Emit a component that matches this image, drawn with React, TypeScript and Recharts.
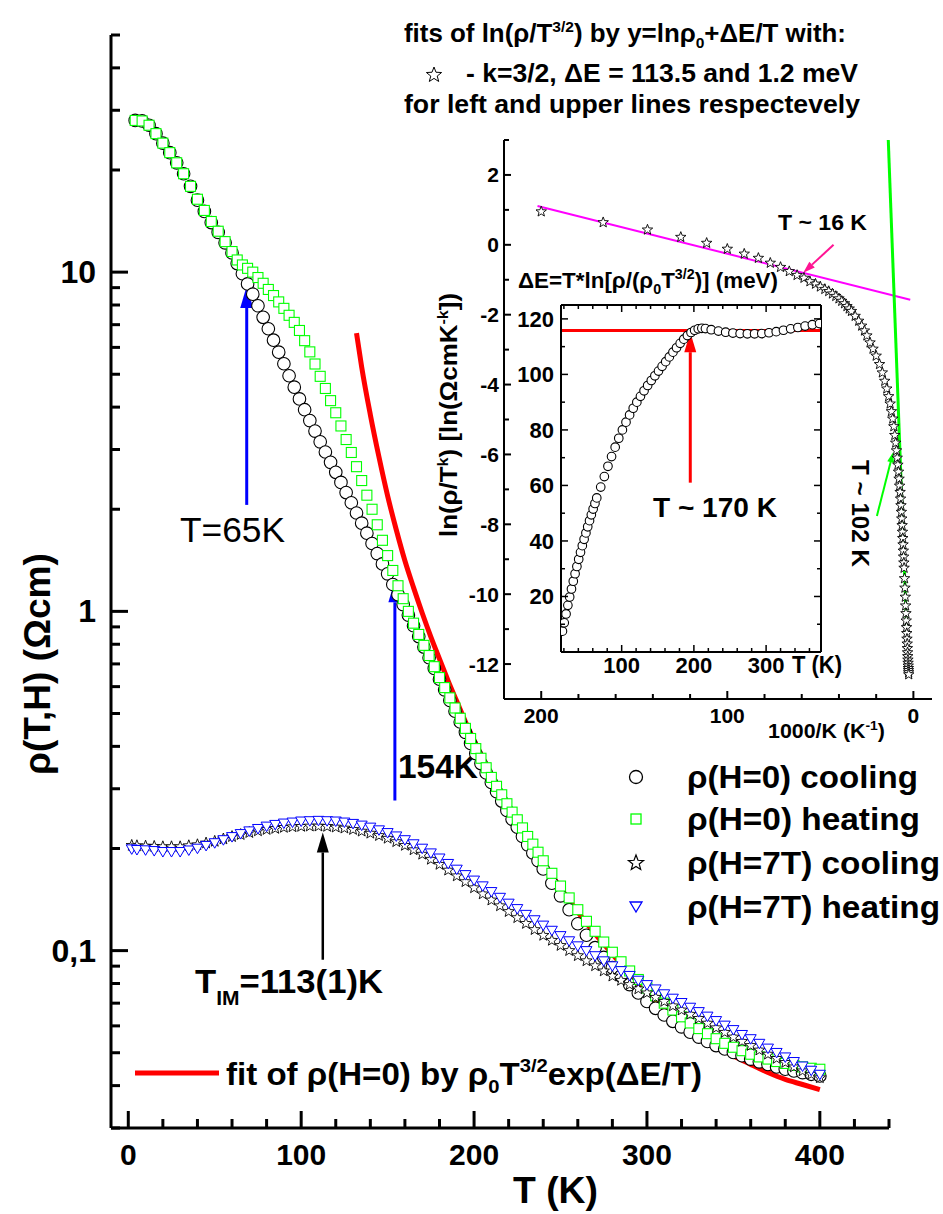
import React from 'react';
import { ComposedChart, Scatter, Line, XAxis, YAxis, ReferenceLine } from 'recharts';

const FONT = '"Liberation Sans", Arial, Helvetica, sans-serif';
const W = 943;
const H = 1214;

// ---------- main panel: rho(T,H) ----------
const tH0 = [
  4, 8, 12, 16, 20, 24, 28, 32, 36, 40, 44, 48, 52, 56, 60,
  63, 66, 69, 72, 75, 78, 81, 84, 87, 90, 93, 96, 99, 102, 105, 108, 111, 114, 117, 120,
  123, 126, 129, 132, 135, 138, 141, 144, 147, 150, 153, 156, 159, 162, 165, 168, 171, 174, 177, 180,
  183, 186, 189, 192, 195, 198, 201, 204, 207, 210, 213, 216, 219, 222, 225, 228, 231, 234, 237, 240,
  245, 250, 255, 260, 265, 270, 275, 280, 285, 290, 295, 300, 305, 310, 315, 320,
  325, 330, 335, 340, 345, 350, 355, 360, 365, 370, 375, 380, 385, 390, 395, 400,
];
const rhoCoolH0 = [
  28.0, 27.9, 27.1, 25.6, 24.0, 22.5, 21.0, 19.5, 17.9, 16.3, 15.1, 14.0, 13.1, 12.2, 11.4,
  10.6, 9.89, 9.23, 8.61, 7.96, 7.36, 6.81, 6.30, 5.81, 5.37, 4.95, 4.58, 4.23, 3.93, 3.65, 3.40, 3.16, 2.95, 2.75, 2.57,
  2.40, 2.24, 2.09, 1.95, 1.82, 1.70, 1.585, 1.48, 1.38, 1.29, 1.20, 1.12, 1.047, 0.975, 0.907, 0.843, 0.785, 0.730, 0.679, 0.631,
  0.587, 0.546, 0.508, 0.472, 0.440, 0.408, 0.381, 0.356, 0.334, 0.313, 0.294, 0.276, 0.259, 0.244, 0.231, 0.217, 0.205, 0.194, 0.184, 0.174,
  0.158, 0.145, 0.132, 0.120, 0.111, 0.102, 0.0955, 0.0891, 0.0841, 0.0794, 0.0750, 0.0708, 0.0676, 0.0646, 0.0619, 0.0596,
  0.0575, 0.0556, 0.0540, 0.0525, 0.0513, 0.0501, 0.0490, 0.0479, 0.0470, 0.0462, 0.0454, 0.0447, 0.0442, 0.0437, 0.0432, 0.0427,
];
const rhoHeatH0 = [
  28.0, 27.9, 27.1, 25.6, 24.0, 22.5, 21.0, 19.5, 17.9, 16.4, 15.2, 14.1, 13.2, 12.3, 11.5,
  10.86, 10.5, 10.26, 10.0, 9.64, 9.27, 8.89, 8.53, 8.17, 7.82, 7.46, 7.11, 6.73, 6.28, 5.82, 5.36, 4.93, 4.54, 4.18, 3.85,
  3.52, 3.21, 2.94, 2.67, 2.43, 2.20, 2.0, 1.80, 1.62, 1.46, 1.32, 1.19, 1.09, 1.0, 0.923, 0.855, 0.794, 0.741, 0.687, 0.638,
  0.596, 0.556, 0.519, 0.484, 0.452, 0.422, 0.394, 0.369, 0.346, 0.324, 0.305, 0.288, 0.271, 0.256, 0.243, 0.230, 0.217, 0.206, 0.195, 0.184,
  0.169, 0.155, 0.143, 0.132, 0.122, 0.114, 0.106, 0.0989, 0.0927, 0.0871, 0.0822, 0.0776, 0.0736, 0.0700, 0.0668, 0.0638,
  0.0612, 0.0589, 0.0569, 0.0550, 0.0533, 0.0519, 0.0507, 0.0495, 0.0486, 0.0479, 0.0471, 0.0465, 0.0459, 0.0454, 0.0450, 0.0447,
];

const tH7 = [
  2, 5, 10, 15, 20, 25, 30, 35, 40, 45, 50, 55, 60, 65, 70, 75, 80, 85, 90, 95,
  100, 105, 110, 115, 120, 125, 130, 135, 140, 145, 150, 155, 160, 165, 170, 175, 180, 185, 190, 195,
  200, 205, 210, 215, 220, 225, 230, 235, 240, 245, 250, 255, 260, 265, 270, 275, 280, 285, 290, 295,
  300, 305, 310, 315, 320, 325, 330, 335, 340, 345, 350, 355, 360, 365, 370, 375, 380, 385, 390, 395, 400,
];
const rhoCoolH7 = [
  0.2042, 0.2037, 0.2032, 0.2028, 0.2023, 0.2023, 0.2023, 0.2037, 0.2051, 0.2075,
  0.2099, 0.2133, 0.2168, 0.2198, 0.2228, 0.2254, 0.2275, 0.2291, 0.2307, 0.2317,
  0.2323, 0.2328, 0.2328, 0.2323, 0.2312, 0.2296, 0.2275, 0.2249, 0.2218, 0.2183,
  0.2143, 0.2094, 0.2042, 0.1982, 0.1923, 0.1858, 0.1795, 0.1726, 0.1660, 0.1596,
  0.1531, 0.1469, 0.1409, 0.1355, 0.1303, 0.1250, 0.1202, 0.1153, 0.1109, 0.1072,
  0.1035, 0.1, 0.0966, 0.0933, 0.0902, 0.0871, 0.0841, 0.0817, 0.0794, 0.0771,
  0.0750, 0.0728, 0.0708, 0.0687, 0.0668, 0.0649, 0.0631, 0.0611, 0.0592, 0.0574,
  0.0556, 0.0540, 0.0525, 0.0509, 0.0495, 0.0481, 0.0468, 0.0454, 0.0442, 0.0432, 0.0422,
];
const rhoHeatH7 = [
  0.1995, 0.1986, 0.1982, 0.1972, 0.1959, 0.1959, 0.1959, 0.198, 0.2004, 0.2042,
  0.208, 0.2123, 0.2168, 0.2213, 0.2254, 0.2291, 0.2328, 0.2355, 0.2377, 0.2393,
  0.2410, 0.2415, 0.2421, 0.2415, 0.2410, 0.2393, 0.2371, 0.2344, 0.2312, 0.2270,
  0.2228, 0.2178, 0.2123, 0.2065, 0.2004, 0.1941, 0.1875, 0.1807, 0.1738, 0.1675,
  0.1614, 0.1552, 0.1493, 0.1436, 0.1380, 0.1330, 0.1279, 0.1233, 0.1189, 0.1148,
  0.1107, 0.1069, 0.1033, 0.1, 0.0966, 0.0933, 0.0902, 0.0873, 0.0845, 0.0818,
  0.0794, 0.0771, 0.0746, 0.0724, 0.0703, 0.0681, 0.0661, 0.0641, 0.0622, 0.0603,
  0.0585, 0.0566, 0.0550, 0.0533, 0.0516, 0.0501, 0.0486, 0.0471, 0.0457, 0.0444, 0.0432,
];

// fit rho0*T^3/2*exp(dE/T)
const tFit = [132, 135, 140, 145, 150, 155, 160, 165, 170, 175, 180, 185, 190, 195, 200,
  210, 220, 230, 240, 250, 260, 270, 280, 290, 300, 310, 320, 330, 340, 350, 360, 370, 380, 390, 400];
const rhoFit = [6.61, 5.25, 3.80, 2.85, 2.19, 1.74, 1.41, 1.175, 0.989, 0.841, 0.724, 0.624, 0.543, 0.473, 0.417,
  0.331, 0.266, 0.219, 0.182, 0.153, 0.130, 0.112, 0.0977, 0.0851, 0.0750, 0.0676, 0.0617, 0.0569, 0.0525,
  0.0490, 0.0462, 0.0437, 0.0417, 0.0403, 0.0389];

const MAIN_X_TICKS = [0, 20, 40, 60, 80, 100, 120, 140, 160, 180, 200, 220, 240, 260, 280, 300, 320, 340, 360, 380, 400, 420, 440];
const MAIN_Y_TICKS = [0.03, 0.04, 0.05, 0.06, 0.07, 0.08, 0.09, 0.1, 0.2, 0.3, 0.4, 0.5, 0.6, 0.7, 0.8, 0.9,
  1, 2, 3, 4, 5, 6, 7, 8, 9, 10, 20, 30, 40, 50];
const MAIN_Y_LABELS: Record<number, string> = { 0.1: '0,1', 1: '1', 10: '10' };

// arrows (tail -> tip) in data units
const arrow65K = [{ x: 68.5, y: 2.06 }, { x: 68.5, y: 9.1 }];
const arrow154K = [{ x: 154.2, y: 0.277 }, { x: 154.2, y: 1.235 }];
const arrowTim = [{ x: 112.5, y: 0.094 }, { x: 112.5, y: 0.223 }];

// ---------- inset: ln(rho/T^k) vs 1000/T ----------
const insetX = [
  200, 166.7, 142.9, 125, 111.1, 100, 90.9, 83.3, 76.9, 71.4, 66.7, 62.5, 58.8, 55.6, 52.6, 50,
  47.6, 45.5, 43.5, 41.7, 40, 38.5, 37, 35.7, 34.5, 33.3,
  31.3, 29.4, 27.8, 26.3, 25, 23.3, 21.7,
  20, 18.2, 16.7, 15.4, 14.3, 13.3, 12.5, 11.8, 11.1, 10.5, 10, 9.52, 9.09, 8.7, 8.33, 8, 7.69, 7.41, 7.14, 6.9,
  6.67, 6.45, 6.25, 6.06, 5.88, 5.71, 5.56, 5.41, 5.26, 5.13, 5,
  4.76, 4.55, 4.35, 4.17, 4, 3.85, 3.7, 3.57, 3.45, 3.33, 3.23, 3.13, 3.03, 2.94, 2.86, 2.78, 2.7, 2.63, 2.56, 2.5,
];
const insetY = [
  0.95, 0.64, 0.43, 0.22, 0.05, -0.12, -0.26, -0.38, -0.52, -0.64, -0.76, -0.87, -0.95, -1.05, -1.12, -1.2,
  -1.27, -1.33, -1.4, -1.47, -1.54, -1.61, -1.68, -1.76, -1.83, -1.9,
  -2.04, -2.18, -2.32, -2.46, -2.6, -2.8, -2.98,
  -3.18, -3.42, -3.66, -3.9, -4.12, -4.34, -4.55, -4.77, -4.98, -5.2, -5.45, -5.67, -5.89, -6.1, -6.3, -6.5, -6.7, -6.9, -7.08, -7.27,
  -7.46, -7.65, -7.84, -8.03, -8.22, -8.4, -8.58, -8.76, -8.93, -9.1, -9.25,
  -9.55, -9.82, -10.08, -10.33, -10.55, -10.76, -10.95, -11.12, -11.28, -11.42, -11.55, -11.67, -11.78, -11.88, -11.97, -12.05, -12.12, -12.18, -12.24, -12.3,
];
const leftFitLine = [{ x: 202, y: 1.11 }, { x: 1.7, y: -1.57 }];
const upperFitLine = [{ x: 13.5, y: 3 }, { x: 2.8, y: -12.2 }];
const arrow16K = [{ x: 42.9, y: 0 }, { x: 59.2, y: -0.8 }];
const arrow102K = [{ x: 19.6, y: -7.76 }, { x: 10.9, y: -5.94 }];
const INSET_X_TICKS = [0, 20, 40, 60, 80, 100, 120, 140, 160, 180, 200];
const INSET_Y_TICKS = [-12, -11, -10, -9, -8, -7, -6, -5, -4, -3, -2, -1, 0, 1, 2, 3];

// ---------- inner inset: dE(T) ----------
const innerT = [
  18, 20.5, 23, 25.5, 28, 30.5, 33, 35.5, 38, 40.5, 43, 45.5, 48, 50.5, 53, 55.5, 58, 60.5, 63, 65.5,
  71, 76, 81, 86, 91, 96, 101, 106, 111, 116, 121, 126, 131, 136, 141, 146, 151, 156, 161, 166,
  171, 176, 181, 186, 191, 196, 201, 206, 211, 216,
  224, 234, 244, 254, 264, 274, 284, 294, 304, 314, 324, 334, 344, 354, 364, 374,
];
const innerDE = [
  7.5, 10.5, 13.7, 16.8, 19.8, 22.7, 25.5, 28.2, 30.8, 33.4, 35.9, 38.3, 40.6, 42.9, 45.1, 47.3, 49.4, 51.5, 53.5, 55.5,
  59.4, 63.2, 66.9, 70.4, 73.8, 77, 80, 82.8, 85.4, 87.8, 90, 92.1, 94.1, 96, 97.8, 99.5, 101.2, 102.9, 104.6, 106.3,
  108, 109.6, 111.2, 112.7, 114, 115.1, 115.9, 116.4, 116.6, 116.5,
  116.1, 115.6, 115.2, 114.9, 114.7, 114.6, 114.6, 114.7, 115, 115.4, 115.9, 116.4, 116.9, 117.4, 117.9, 118.3,
];
const plateauDE = 115.8;
const arrow170K = [{ x: 195, y: 61 }, { x: 195, y: 115.2 }];
const INNER_X_TICKS = [20, 40, 60, 80, 100, 120, 140, 160, 180, 200, 220, 240, 260, 280, 300, 320, 340, 360];
const INNER_Y_TICKS = [10, 20, 30, 40, 50, 60, 70, 80, 90, 100, 110, 120];

const pairs = (xs: number[], ys: number[], kx: string, ky: string) =>
  xs.map((v, i) => ({ [kx]: v, [ky]: ys[i] }));

const coolH0 = pairs(tH0, rhoCoolH0, 'T', 'rho');
const heatH0 = pairs(tH0, rhoHeatH0, 'T', 'rho');
const coolH7 = pairs(tH7, rhoCoolH7, 'T', 'rho');
const heatH7 = pairs(tH7, rhoHeatH7, 'T', 'rho');
const fitData = pairs(tFit, rhoFit, 'T', 'rho');
const insetData = pairs(insetX, insetY, 'x', 'y');
const innerData = pairs(innerT, innerDE, 'T', 'dE');

// ---------- shapes ----------
const starPts = (cx: number, cy: number, R: number, r: number) =>
  Array.from({ length: 10 }, (_, i) => {
    const a = -Math.PI / 2 + (i * Math.PI) / 5;
    const rad = i % 2 ? r : R;
    return `${cx + rad * Math.cos(a)},${cy + rad * Math.sin(a)}`;
  }).join(' ');

const circleShape = (r: number) => (p: any) => (
  <circle cx={p.cx} cy={p.cy} r={r} fill="#fff" stroke="#000" strokeWidth={1.1} />
);
const squareShape = (p: any) => (
  <rect x={p.cx - 5} y={p.cy - 5} width={10} height={10} fill="#fff" stroke="#00ff00" strokeWidth={1.1} />
);
const starShape = (R: number) => (p: any) => (
  <polygon points={starPts(p.cx, p.cy, R, R * 0.42)} fill="#fff" stroke="#000" strokeWidth={0.9} />
);
const triDownShape = (p: any) => (
  <polygon points={`${p.cx - 5.5},${p.cy - 4} ${p.cx + 5.5},${p.cy - 4} ${p.cx},${p.cy + 5.5}`}
    fill="#fff" stroke="#0000ff" strokeWidth={1} />
);

const arrowShape = (color: string, sw: number, headL: number, headW: number) => (p: any) => {
  const { x1, y1, x2, y2 } = p;
  const ang = Math.atan2(y2 - y1, x2 - x1);
  const bx = x2 - headL * Math.cos(ang);
  const by = y2 - headL * Math.sin(ang);
  const nx = (-Math.sin(ang) * headW) / 2;
  const ny = (Math.cos(ang) * headW) / 2;
  return (
    <g>
      <line x1={x1} y1={y1} x2={bx} y2={by} stroke={color} strokeWidth={sw} />
      <polygon points={`${x2},${y2} ${bx + nx},${by + ny} ${bx - nx},${by - ny}`} fill={color} />
    </g>
  );
};

type TickOpts = {
  dir: 'up' | 'down' | 'left' | 'right';
  isMajor: (v: number) => boolean;
  major: number;
  minor: number;
  sw: number;
  label?: (v: number) => string | null;
  lx?: number;
  ly?: number;
  anchor?: 'start' | 'middle' | 'end';
  fs?: number;
};
const DIRS = { up: [0, -1], down: [0, 1], left: [-1, 0], right: [1, 0] };
const axisTick = (o: TickOpts) => (props: any) => {
  const { x, y, payload } = props;
  const v = payload.value;
  const maj = o.isMajor(v);
  const len = maj ? o.major : o.minor;
  const [dx, dy] = DIRS[o.dir];
  const text = maj && o.label ? o.label(v) : null;
  return (
    <g>
      <line x1={x} y1={y} x2={x + dx * len} y2={y + dy * len} stroke="#000" strokeWidth={o.sw} />
      {text != null && (
        <text x={x + (o.lx || 0)} y={y + (o.ly || 0)} textAnchor={o.anchor} fontSize={o.fs}
          fontWeight="bold" fontFamily={FONT} fill="#000">
          {text}
        </text>
      )}
    </g>
  );
};

const abs: React.CSSProperties = { position: 'absolute', left: 0, top: 0 };
const bold = { fontFamily: FONT, fontWeight: 'bold' as const, fill: '#000' };

function TextLayer() {
  return (
    <svg width={W} height={H} style={abs}>
      {/* header */}
      <text x={404} y={42} fontSize={25} textLength={442} lengthAdjust="spacingAndGlyphs" {...bold}>
        fits of ln(ρ/T<tspan fontSize={15} dy={-10}>3/2</tspan>
        <tspan dy={10}>) by y=lnρ</tspan>
        <tspan fontSize={15} dy={6}>0</tspan>
        <tspan dy={-6}>+ΔE/T with:</tspan>
      </text>
      <polygon points={starPts(434, 75, 8, 3.4)} fill="#fff" stroke="#000" strokeWidth={1} />
      <text x={466} y={82} fontSize={25} textLength={392} lengthAdjust="spacingAndGlyphs" {...bold}>
        - k=3/2, ΔE = 113.5 and 1.2 meV
      </text>
      <text x={404} y={113} fontSize={25} textLength={456} lengthAdjust="spacingAndGlyphs" {...bold}>
        for left and upper lines respectevely
      </text>

      {/* main axis titles */}
      <text transform="translate(50,775) rotate(-90)" fontSize={36} textLength={222} lengthAdjust="spacingAndGlyphs" {...bold}>
        ρ(T,H) (Ωcm)
      </text>
      <text x={513} y={1203} fontSize={37} textLength={85} lengthAdjust="spacingAndGlyphs" {...bold}>
        T (K)
      </text>

      {/* main annotations */}
      <text x={180} y={542} fontSize={35} textLength={105} lengthAdjust="spacingAndGlyphs" fontFamily={FONT} fill="#000">
        T=65K
      </text>
      <text x={398} y={778} fontSize={33} textLength={80} lengthAdjust="spacingAndGlyphs" {...bold}>
        154K
      </text>
      <text x={195} y={993} fontSize={33} textLength={188} lengthAdjust="spacingAndGlyphs" {...bold}>
        T<tspan fontSize={20} dy={12}>IM</tspan>
        <tspan dy={-12}>=113(1)K</tspan>
      </text>

      {/* main legend */}
      <circle cx={636} cy={777} r={6.5} fill="none" stroke="#000" strokeWidth={1.3} />
      <rect x={631} y={814} width={10} height={10} fill="none" stroke="#00ff00" strokeWidth={1.3} />
      <polygon points={starPts(636, 863, 8, 3.4)} fill="none" stroke="#000" strokeWidth={1.2} />
      <polygon points="630,902 642,902 636,912" fill="none" stroke="#0000ff" strokeWidth={1.3} />
      <text x={687} y={788} fontSize={31} textLength={231} lengthAdjust="spacingAndGlyphs" {...bold}>ρ(H=0) cooling</text>
      <text x={687} y={830} fontSize={31} textLength={233} lengthAdjust="spacingAndGlyphs" {...bold}>ρ(H=0) heating</text>
      <text x={687} y={874} fontSize={31} textLength={253} lengthAdjust="spacingAndGlyphs" {...bold}>ρ(H=7T) cooling</text>
      <text x={687} y={918} fontSize={31} textLength={253} lengthAdjust="spacingAndGlyphs" {...bold}>ρ(H=7T) heating</text>

      <line x1={135} x2={219} y1={1073} y2={1073} stroke="#ff0000" strokeWidth={5} />
      <text x={226} y={1085} fontSize={31} textLength={476} lengthAdjust="spacingAndGlyphs" {...bold}>
        fit of ρ(H=0) by ρ<tspan fontSize={19} dy={8}>0</tspan>
        <tspan dy={-8}>T</tspan>
        <tspan fontSize={19} dy={-13}>3/2</tspan>
        <tspan dy={13}>exp(ΔE/T)</tspan>
      </text>

      {/* inset titles */}
      <text transform="translate(457,537) rotate(-90)" fontSize={24} textLength={244} lengthAdjust="spacingAndGlyphs" {...bold}>
        ln(ρ/T<tspan fontSize={15} dy={-9}>k</tspan>
        <tspan dy={9}>) [ln(ΩcmK</tspan>
        <tspan fontSize={15} dy={-9}>-k</tspan>
        <tspan dy={9}>])</tspan>
      </text>
      <text x={768} y={738} fontSize={20} textLength={117} lengthAdjust="spacingAndGlyphs" {...bold}>
        1000/K (K<tspan fontSize={13} dy={-8}>-1</tspan>
        <tspan dy={8}>)</tspan>
      </text>
      <text x={778} y={230} fontSize={22} textLength={89} lengthAdjust="spacingAndGlyphs" {...bold}>T ~ 16 K</text>
      <text transform="translate(852,460) rotate(90)" fontSize={24} textLength={107} lengthAdjust="spacingAndGlyphs" {...bold}>
        T ~ 102 K
      </text>
      <text x={518} y={288} fontSize={22} textLength={260} lengthAdjust="spacingAndGlyphs" {...bold}>
        ΔE=T*ln[ρ/(ρ<tspan fontSize={14} dy={6}>0</tspan>
        <tspan dy={-6}>T</tspan>
        <tspan fontSize={14} dy={-9}>3/2</tspan>
        <tspan dy={9}>)] (meV)</tspan>
      </text>
      <text x={653} y={517} fontSize={28} textLength={124} lengthAdjust="spacingAndGlyphs" {...bold}>T ~ 170 K</text>
      <text x={792} y={673} fontSize={24} textLength={50} lengthAdjust="spacingAndGlyphs" {...bold}>T (K)</text>
    </svg>
  );
}

function MainChart() {
  return (
    <div style={abs}>
      <ComposedChart width={W} height={H} margin={{ top: 35, right: 54, bottom: 85, left: 110 }}>
        <XAxis type="number" dataKey="T" domain={[-10, 440]} allowDataOverflow ticks={MAIN_X_TICKS} interval={0}
          height={1} tickSize={0} tickMargin={0} tickLine={false} axisLine={{ stroke: '#000', strokeWidth: 3 }}
          tick={axisTick({ dir: 'up', isMajor: (v) => v % 100 === 0, major: 17, minor: 9, sw: 3,
            label: (v) => (v <= 400 ? String(v) : null), ly: 37, anchor: 'middle', fs: 30 })} />
        <YAxis type="number" dataKey="rho" scale="log" domain={[0.03, 50]} allowDataOverflow ticks={MAIN_Y_TICKS}
          interval={0} width={1} tickSize={0} tickMargin={0} tickLine={false} axisLine={{ stroke: '#000', strokeWidth: 3 }}
          tick={axisTick({ dir: 'right', isMajor: (v) => MAIN_Y_LABELS[v] !== undefined, major: 17, minor: 9, sw: 3,
            label: (v) => MAIN_Y_LABELS[v], lx: -15, ly: 11, anchor: 'end', fs: 32 })} />
        <Scatter data={coolH0} shape={circleShape(6.3)} isAnimationActive={false} />
        <Scatter data={heatH0} shape={squareShape} isAnimationActive={false} />
        <Scatter data={coolH7} shape={starShape(6)} isAnimationActive={false} />
        <Scatter data={heatH7} shape={triDownShape} isAnimationActive={false} />
        <Line data={fitData} dataKey="rho" type="monotone" stroke="#ff0000" strokeWidth={5} dot={false}
          activeDot={false} isAnimationActive={false} />
        <ReferenceLine segment={arrow65K} ifOverflow="visible" shape={arrowShape('#0000ff', 3, 22, 13)} />
        <ReferenceLine segment={arrow154K} ifOverflow="visible" shape={arrowShape('#0000ff', 3, 22, 13)} />
        <ReferenceLine segment={arrowTim} ifOverflow="visible" shape={arrowShape('#000', 2.5, 20, 12)} />
      </ComposedChart>
    </div>
  );
}

function InsetChart() {
  return (
    <div style={abs}>
      <ComposedChart width={W} height={H} margin={{ top: 140, right: 11, bottom: 514, left: 503 }}>
        <XAxis type="number" dataKey="x" domain={[-10, 220]} reversed allowDataOverflow ticks={INSET_X_TICKS}
          interval={0} height={1} tickSize={0} tickMargin={0} tickLine={false} axisLine={{ stroke: '#000', strokeWidth: 2 }}
          tick={axisTick({ dir: 'up', isMajor: (v) => v % 100 === 0, major: 8, minor: 5, sw: 2,
            label: (v) => String(v), ly: 24, anchor: 'middle', fs: 21 })} />
        <YAxis type="number" dataKey="y" domain={[-13, 3]} allowDataOverflow ticks={INSET_Y_TICKS} interval={0}
          width={1} tickSize={0} tickMargin={0} tickLine={false} axisLine={{ stroke: '#000', strokeWidth: 2 }}
          tick={axisTick({ dir: 'right', isMajor: (v) => v % 2 === 0, major: 7, minor: 5, sw: 2,
            label: (v) => String(v), lx: -5, ly: 7.5, anchor: 'end', fs: 21 })} />
        <Scatter data={insetData} shape={starShape(5.5)} isAnimationActive={false} />
        <Line data={leftFitLine} dataKey="y" type="linear" stroke="#ff00ff" strokeWidth={2} dot={false}
          activeDot={false} isAnimationActive={false} />
        <Line data={upperFitLine} dataKey="y" type="linear" stroke="#00ff00" strokeWidth={3} dot={false}
          activeDot={false} isAnimationActive={false} />
        <ReferenceLine segment={arrow16K} ifOverflow="visible" shape={arrowShape('#ff1493', 2, 12, 8)} />
        <ReferenceLine segment={arrow102K} ifOverflow="visible" shape={arrowShape('#00ff00', 2, 10, 7)} />
      </ComposedChart>
    </div>
  );
}

function InnerChart() {
  const box = { stroke: '#000', strokeWidth: 2 };
  return (
    <div style={abs}>
      <ComposedChart width={W} height={H} margin={{ top: 304, right: 121, bottom: 561, left: 560 }}>
        <XAxis xAxisId="b" type="number" dataKey="T" domain={[16, 376]} allowDataOverflow ticks={INNER_X_TICKS}
          interval={0} height={1} tickSize={0} tickMargin={0} tickLine={false} axisLine={box}
          tick={axisTick({ dir: 'up', isMajor: (v) => v % 100 === 0, major: 7, minor: 4, sw: 1.5,
            label: (v) => String(v), ly: 21, anchor: 'middle', fs: 22 })} />
        <XAxis xAxisId="t" orientation="top" type="number" dataKey="T" domain={[16, 376]} allowDataOverflow
          ticks={INNER_X_TICKS} interval={0} height={1} tickSize={0} tickMargin={0} tickLine={false} axisLine={box}
          tick={axisTick({ dir: 'down', isMajor: (v) => v % 100 === 0, major: 7, minor: 4, sw: 1.5 })} />
        <YAxis yAxisId="l" type="number" dataKey="dE" domain={[0, 125]} allowDataOverflow ticks={INNER_Y_TICKS}
          interval={0} width={1} tickSize={0} tickMargin={0} tickLine={false} axisLine={box}
          tick={axisTick({ dir: 'right', isMajor: (v) => v % 20 === 0, major: 7, minor: 4, sw: 1.5,
            label: (v) => String(v), lx: -7, ly: 8, anchor: 'end', fs: 22 })} />
        <YAxis yAxisId="r" orientation="right" type="number" dataKey="dE" domain={[0, 125]} allowDataOverflow
          ticks={INNER_Y_TICKS} interval={0} width={1} tickSize={0} tickMargin={0} tickLine={false} axisLine={box}
          tick={axisTick({ dir: 'left', isMajor: (v) => v % 20 === 0, major: 7, minor: 4, sw: 1.5 })} />
        <Scatter xAxisId="b" yAxisId="l" data={innerData} shape={circleShape(4.3)} isAnimationActive={false} />
        <ReferenceLine xAxisId="b" yAxisId="l" y={plateauDE} stroke="#ff0000" strokeWidth={3} ifOverflow="visible" />
        <ReferenceLine xAxisId="b" yAxisId="l" segment={arrow170K} ifOverflow="visible"
          shape={arrowShape('#ff0000', 3, 20, 12)} />
      </ComposedChart>
    </div>
  );
}

export default function App() {
  return (
    <div style={{ ...abs, width: W, height: H, background: '#fff' }}>
      <TextLayer />
      <MainChart />
      <InsetChart />
      <InnerChart />
    </div>
  );
}
